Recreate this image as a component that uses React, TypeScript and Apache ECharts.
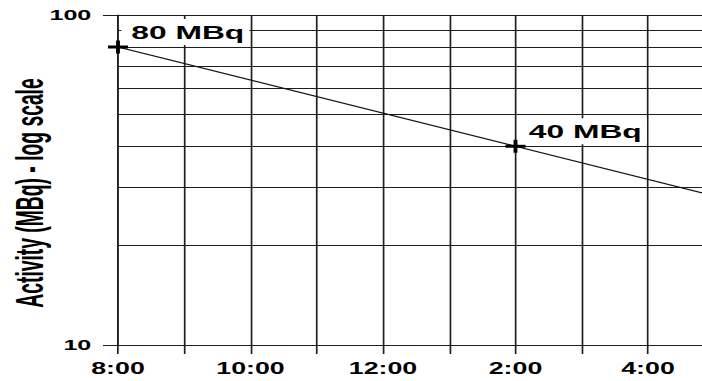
import React, { useEffect, useRef } from 'react';
import * as echarts from 'echarts';

// Decay of an activity measured at 8:00 (hours elapsed since 8:00 on the x axis)
const hoursSinceEight = [0, 6, 8.85];
const activityMBq = [80, 40, 28.8];
const pointLabelled = [true, true, false];

// x tick labels, one per two hours starting at 8:00
const timeTickLabels = ['8:00', '10:00', '12:00', '2:00', '4:00'];
// intermediate log grid lines inside the 10–100 decade
const decadeGridValues = [20, 30, 40, 50, 60, 70, 80, 90];
const yAxisTitle = 'Activity (MBq) - log scale';

// The figure is drawn narrow and widened horizontally, like the printed chart
const STRETCH = 702 / 420;
const INNER_W = 422;
const HEIGHT = 381;
const GRID_LEFT = 118 / STRETCH;
const HOUR_PX = 66.25 / STRETCH;
const X_MAX = (INNER_W - GRID_LEFT) / HOUR_PX;

const FONT = "'Liberation Sans', Arial, Helvetica, sans-serif";
const INK = '#000';
const RULE = '#1e1e1e';

const SYM_W = 12;
const SYM_H = 13;
const CROSS = 'path://M0,5H5.25V0H7.75V5H13V8H7.75V13H5.25V8H0Z';

export default function App() {
  const ref = useRef<HTMLDivElement>(null);

  useEffect(() => {
    if (!ref.current) return;
    const chart = echarts.init(ref.current, undefined, { renderer: 'svg' });

    const data = hoursSinceEight.map((h, i) =>
      pointLabelled[i]
        ? { value: [h, activityMBq[i]] }
        : { value: [h, activityMBq[i]], symbol: 'none', label: { show: false } }
    );

    chart.setOption({
      animation: false,
      backgroundColor: '#fff',
      grid: { left: GRID_LEFT, right: 0, top: 15, bottom: HEIGHT - 345, containLabel: false },
      xAxis: {
        type: 'value',
        min: 0,
        max: X_MAX,
        interval: 1,
        axisLine: { show: true, lineStyle: { color: RULE, width: 1 } },
        axisTick: { show: true, length: 9, lineStyle: { color: RULE, width: 1 } },
        splitLine: { show: true, lineStyle: { color: RULE, width: 1 } },
        axisLabel: {
          margin: 16,
          fontFamily: FONT,
          fontSize: 16,
          fontWeight: 'bold',
          color: INK,
          showMaxLabel: false,
          formatter: (v: number) => {
            const r = Math.round(v);
            if (Math.abs(v - r) > 1e-6 || r % 2 !== 0) return '';
            return timeTickLabels[r / 2] ?? '';
          },
        },
      },
      yAxis: {
        type: 'log',
        logBase: 10,
        min: 10,
        max: 100,
        axisLine: { show: true, lineStyle: { color: RULE, width: 1 } },
        axisTick: { show: true, length: 9, lineStyle: { color: RULE, width: 1 } },
        splitLine: { show: true, lineStyle: { color: RULE, width: 1 } },
        axisLabel: {
          margin: 16,
          fontFamily: FONT,
          fontSize: 15,
          fontWeight: 'bold',
          color: INK,
        },
      },
      series: [
        {
          type: 'line',
          z: 3,
          data,
          symbol: CROSS,
          symbolSize: [SYM_W, SYM_H],
          symbolKeepAspect: false,
          showAllSymbol: true,
          lineStyle: { color: '#111', width: 1.2 },
          itemStyle: { color: INK },
          label: {
            show: true,
            formatter: (p: any) => `${p.value[1]} MBq`,
            position: [SYM_W / 2 + 2, SYM_H / 2 - 2],
            align: 'left',
            verticalAlign: 'bottom',
            fontFamily: FONT,
            fontSize: 19,
            fontWeight: 'bold',
            color: INK,
            backgroundColor: '#fff',
            padding: [3, 3, 3, 6],
            lineHeight: 20,
          },
          markLine: {
            z: 1,
            silent: true,
            symbol: ['none', 'none'],
            label: { show: false },
            lineStyle: { color: RULE, width: 1, type: 'solid' },
            data: decadeGridValues.map((v) => ({ yAxis: v })),
          },
        },
      ],
      graphic: [
        {
          type: 'text',
          silent: true,
          x: 30 / STRETCH,
          y: 193,
          rotation: Math.PI / 2,
          scaleY: 1.22,
          style: {
            text: yAxisTitle,
            fontFamily: FONT,
            fontSize: 19.3,
            fontWeight: 'bold',
            fill: INK,
            align: 'center',
            verticalAlign: 'middle',
          },
        },
      ],
    });

    return () => chart.dispose();
  }, []);

  return (
    <div
      style={{
        position: 'fixed',
        left: 0,
        top: 0,
        width: 702,
        height: HEIGHT,
        overflow: 'hidden',
        background: '#fff',
      }}
    >
      <div
        ref={ref}
        style={{
          width: INNER_W,
          height: HEIGHT,
          transform: `scaleX(${STRETCH})`,
          transformOrigin: '0 0',
        }}
      />
    </div>
  );
}
